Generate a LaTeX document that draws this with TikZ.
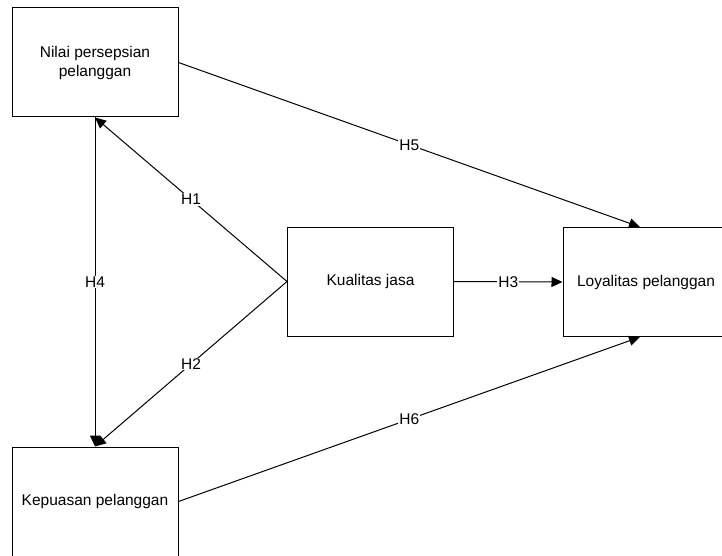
\documentclass[tikz,border=0pt]{standalone}
\usepackage{fontspec}
\setmainfont{Liberation Sans}
\usetikzlibrary{arrows.meta}
\tikzset{
  var/.style={draw,line width=1pt,rectangle,minimum width=166pt,minimum height=109pt,align=center,inner sep=0pt},
  hyp/.style={line width=1pt,-{Triangle[length=11pt,width=10pt]}},
  lbl/.style={fill=white,inner sep=1pt,midway}
}
\begin{document}
\begin{tikzpicture}[x=1pt,y=-1pt,font=\fontsize{15.5}{19}\selectfont]
        \useasboundingbox (0,0) rectangle (722,556);
        \clip (0,0) rectangle (722,556);
        \node[var] (nilai) at (95,62.5) {Nilai persepsian\\pelanggan};
        \node[var] (kepuasan) at (95,501.5) {Kepuasan pelanggan};
        \node[var] (kualitas) at (370.5,281.5) {Kualitas jasa};
        \node[var] (loyalitas) at (646,282) {Loyalitas pelanggan};
        \draw[hyp] (kualitas.west) -- (nilai.south) node[lbl] {H1};
        \draw[hyp] (kualitas.west) -- (kepuasan.north) node[lbl] {H2};
        \draw[hyp] (kualitas.east) -- (loyalitas.west) node[lbl] {H3};
        \draw[hyp] (nilai.south) -- (kepuasan.north) node[lbl] {H4};
        \draw[hyp] (nilai.east) -- ([xshift=-6pt]loyalitas.north) node[lbl] {H5};
        \draw[hyp] (kepuasan.east) -- ([xshift=-6pt]loyalitas.south) node[lbl] {H6};
    \end{tikzpicture}
\end{document}
